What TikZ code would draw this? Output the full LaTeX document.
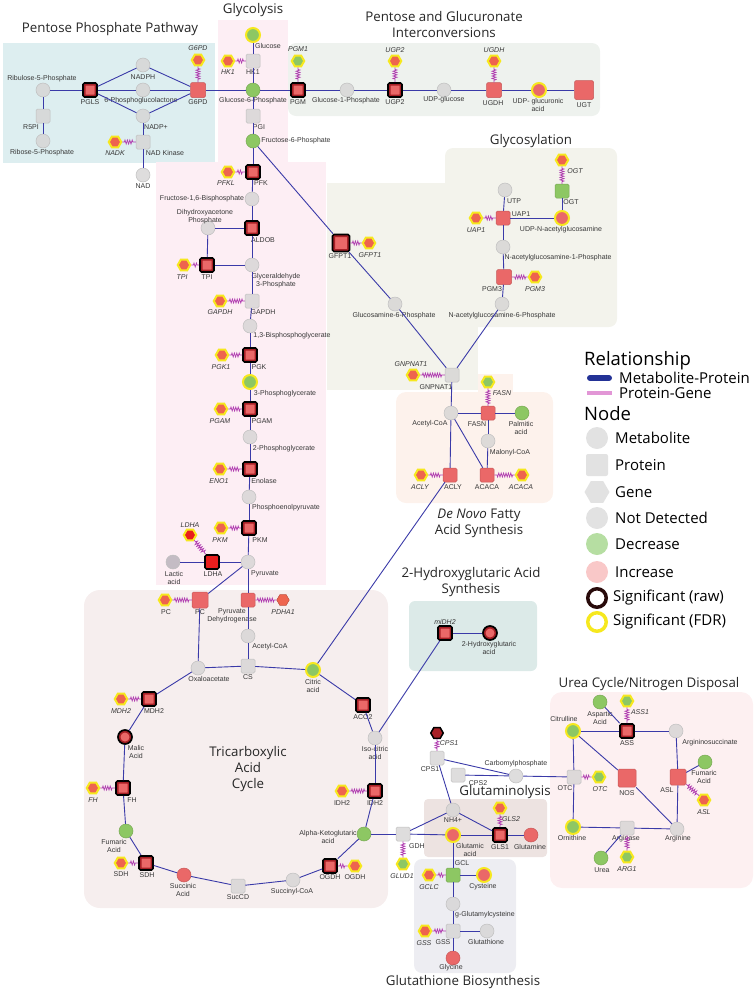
\documentclass[tikz,border=0pt]{standalone}
\usepackage{fontspec}
\setmainfont{Liberation Sans}
\newfontfamily\titlefont{Open Sans}
\usetikzlibrary{shapes.geometric,decorations.pathmorphing}
\definecolor{mpblue}{RGB}{58,58,168}
\definecolor{pgpurple}{RGB}{176,60,176}
\definecolor{incr}{RGB}{234,104,104}
\definecolor{genered}{RGB}{238,100,78}
\definecolor{decr}{RGB}{141,199,99}
\definecolor{ndgrey}{RGB}{214,212,212}
\definecolor{rawred}{RGB}{168,32,38}
\definecolor{brightred}{RGB}{232,30,30}
\definecolor{fdryellow}{RGB}{246,232,30}
\definecolor{lacgrey}{RGB}{196,188,196}
\definecolor{lbltext}{RGB}{55,55,55}
\definecolor{pppbg}{RGB}{221,238,240}
\definecolor{glybg}{RGB}{253,238,244}
\definecolor{pgibg}{RGB}{238,242,238}
\definecolor{glcbg}{RGB}{243,243,236}
\definecolor{fabg}{RGB}{253,242,236}
\definecolor{tcabg}{RGB}{246,238,238}
\definecolor{hgbg}{RGB}{220,234,232}
\definecolor{ureabg}{RGB}{253,240,241}
\definecolor{glnbg}{RGB}{237,227,225}
\definecolor{gshbg}{RGB}{237,237,242}
\definecolor{mpbold}{RGB}{35,50,150}
\definecolor{pgpink}{RGB}{226,150,214}
\definecolor{lggrey}{RGB}{226,226,226}
\definecolor{decrlight}{RGB}{182,222,162}
\definecolor{incrlight}{RGB}{249,200,200}
\definecolor{rawdark}{RGB}{40,10,10}
\newcommand\lblfont{\fontsize{7}{7.8}\selectfont}
\newcommand\ttlfont{\titlefont\fontsize{13.3}{16}\selectfont}
\tikzset{
  met/.style={circle, minimum size=14pt, inner sep=0pt, fill=ndgrey, fill opacity=0.8, draw=black!25, line width=0.5pt},
  prot/.style={rectangle, rounded corners=1.5pt, minimum size=14pt, inner sep=0pt, fill=ndgrey, fill opacity=0.8, draw=black!25, line width=0.5pt},
  gene/.style={regular polygon, regular polygon sides=6, minimum size=12.5pt, inner sep=0pt, fill=genered, draw=genered!80!black, line width=0.5pt},
  incr/.style={fill=incr, fill opacity=1, draw=incr!85!black},
  decr/.style={fill=decr, fill opacity=1, draw=decr!85!black},
  fdr/.style={draw=fdryellow, line width=2pt},
  rawsq/.style={fill=incr, fill opacity=1, draw=black, line width=1.7pt,
    path picture={\draw[rawred, line width=5pt] (path picture bounding box.south west) rectangle (path picture bounding box.north east);}},
  rawci/.style={fill=incr, fill opacity=1, draw=black, line width=1.7pt,
    path picture={\draw[rawred, line width=5pt] (path picture bounding box.center) circle[radius=7pt];}},
  rawbright/.style={fill=brightred, fill opacity=1, draw=black, line width=1.7pt},
  rawgene/.style={fill=rawred, draw=black, line width=1.5pt},
  lbl/.style={font=\lblfont, text=lbltext, inner sep=0pt, align=center},
  ttl/.style={font=\ttlfont, text=black!85, align=center, inner sep=0pt},
  mp/.style={draw=mpblue, line width=0.9pt},
  pg/.style={draw=pgpurple, line width=0.7pt, decorate,
    decoration={zigzag, segment length=2.4pt, amplitude=2pt, pre length=2pt, post length=2pt}},
  lgsym/.style={minimum size=22pt, inner sep=0pt, fill=lggrey},
  lgtxt/.style={anchor=west, font=\titlefont\fontsize{15}{18}\selectfont, inner sep=0pt},
  lghead/.style={anchor=west, font=\titlefont\fontsize{18.5}{22}\selectfont, inner sep=0pt}
}
\def\metnode(#1,#2,#3,#4,#5,#6,#7){
  \node[met, #4] (#1) at (#2,#3) {};
  \node[lbl] (#1-l) at (#5,#6) {#7};
}
\def\protnode(#1,#2,#3,#4,#5,#6,#7){
  \node[prot, #4] (#1) at (#2,#3) {};
  \node[lbl] (#1-l) at (#5,#6) {#7};
}
\def\genenode(#1,#2,#3,#4,#5,#6,#7){
  \node[gene, #4] (#1) at (#2,#3) {};
  \node[lbl, font=\lblfont\itshape] (#1-l) at (#5,#6) {#7};
}

\begin{document}
\begin{tikzpicture}[x=1pt, y=-1pt]
\useasboundingbox (0,0) rectangle (755,991);
\fill[pppbg] (3,43) rectangle (215,163);
\fill[glybg] (218,20) rectangle (288,165);
\fill[glybg] (156,162) rectangle (326,585);
\fill[pgibg, rounded corners=8pt] (288,43) rectangle (600,116);
\fill[glcbg, rounded corners=8pt] (445,148) rectangle (617,327);
\fill[glcbg] (327,183) rectangle (478,390);
\fill[fabg, rounded corners=10pt] (396,392) rectangle (553,503);
\fill[fabg] (478,374) rectangle (513,393);
\fill[tcabg, rounded corners=16pt] (84,590) rectangle (388,908);
\fill[hgbg, rounded corners=6pt] (409,601) rectangle (537,671);
\fill[ureabg, rounded corners=12pt] (550,692) rectangle (753,888);
\fill[glnbg, rounded corners=4pt] (424,799) rectangle (547,857);
\fill[gshbg, rounded corners=8pt] (414,859) rectangle (516,973);

\node[ttl] (ttl-ppp) at (110,29) {Pentose Phosphate Pathway};
\node[ttl] (ttl-gly) at (253,10) {Glycolysis};
\node[ttl] (ttl-pgi) at (444,25) {Pentose and Glucuronate\\Interconversions};
\node[ttl] (ttl-glc) at (531,141) {Glycosylation};
\node[ttl] (ttl-fa) at (479,523) {\textit{De Novo} Fatty\\Acid Synthesis};
\node[ttl] (ttl-hg) at (471,582) {2-Hydroxyglutaric Acid\\Synthesis};
\node[ttl] (ttl-tca) at (248,769) {Tricarboxylic\\Acid\\Cycle};
\node[ttl] (ttl-urea) at (649,684) {Urea Cycle/Nitrogen Disposal};
\node[ttl] (ttl-gln) at (505,792) {Glutaminolysis};
\node[ttl] (ttl-gsh) at (463,982) {Glutathione Biosynthesis};

\metnode(ru5p,43,90,,42,79,Ribulose-5-Phosphate)
\protnode(r5pi,43,116,,31,127,R5PI)
\metnode(r5p,43,141,,42,153,Ribose-5-Phosphate)
\protnode(pgls,90,90,rawsq,90,102,PGLS)
\metnode(nadph,143,65,,143,77,NADPH)
\metnode(pgl,143,90,,141,101,6-Phosphoglucolactone)
\metnode(nadp,143,116,,156,127,NADP+)
\protnode(nadk,143,142,,165,153,NAD Kinase)
\genenode(nadkg,115,142,fdr,115,153,NADK)
\metnode(nad,143,175,,143,186,NAD)
\protnode(g6pd,198,90,{incr,minimum size=15pt},198,102,G6PD)
\genenode(g6pdg,198,60,fdr,198,48,G6PD)

\metnode(glc,253,35,{decr,fdr},268,46,Glucose)
\protnode(hk1,253,61,,253,72,HK1)
\genenode(hk1g,228,61,fdr,228,72,HK1)
\metnode(g6p,253,90,decr,253,101,Glucose-6-Phosphate)
\protnode(pgi,253,116,,259,127,PGI)
\metnode(f6p,253,141,decr,296,141,Fructose-6-Phosphate)
\protnode(pfk,253,172,rawsq,261,183,PFK)
\genenode(pfklg,228,172,fdr,226,183,PFKL)
\metnode(f16bp,252,199,,202,199,Fructose-1,6-Bisphosphate)
\metnode(dhap,208,228,,205,217,Dihydroxyacetone\\Phosphate)
\protnode(aldob,252,228,rawsq,263,240,ALDOB)
\protnode(tpi,207,265,rawsq,207,277,TPI)
\genenode(tpig,184,265,fdr,182,277,TPI)
\metnode(g3p,252,265,,276,281,Glyceraldehyde\\3-Phosphate)
\protnode(gapdh,252,301,,263,312,GAPDH)
\genenode(gapdhg,220,301,fdr,220,312,GAPDH)
\metnode(bpg,250,326,,292,336,1,3-Bisphosphoglycerate)
\protnode(pgk,250,355,rawsq,259,367,PGK)
\genenode(pgk1g,222,355,fdr,221,367,PGK1)
\metnode(pg3,250,382,{decr,fdr},285,394,3-Phosphoglycerate)
\protnode(pgam,250,409,rawsq,262,421,PGAM)
\genenode(pgamg,221,409,fdr,220,421,PGAM)
\metnode(pg2,250,437,,284,449,2-Phosphoglycerate)
\protnode(eno,250,469,rawsq,264,481,Enolase)
\genenode(eno1g,220,469,fdr,219,481,ENO1)
\metnode(pep,249,497,,286,508,Phosphoenolpyruvate)
\protnode(pkm,249,528,rawsq,260,540,PKM)
\genenode(pkmg,221,528,fdr,220,540,PKM)
\metnode(pyr,248,562,,265,574,Pyruvate)
\protnode(ldha,212,562,rawbright,213,574,LDHA)
\genenode(ldhag,190,535,{fdr,fill=brightred},190,525,LDHA)
\metnode(lac,173,562,{fill=lacgrey,fill opacity=1},174,578,Lactic\\acid)

\protnode(pgm,298,90,rawsq,298,102,PGM)
\genenode(pgm1g,298,61,{decr,fdr},298,49,PGM1)
\metnode(g1p,347,90,,346,101,Glucose-1-Phosphate)
\protnode(ugp2,395,90,rawsq,395,102,UGP2)
\genenode(ugp2g,395,61,fdr,395,50,UGP2)
\metnode(udpg,444,90,,444,100,UDP-glucose)
\protnode(ugdh,494,90,{incr,minimum size=15pt},493,103,UGDH)
\genenode(ugdhg,494,61,fdr,494,50,UGDH)
\metnode(udpga,539,90,{incr,fdr},538,105,UDP- glucuronic\\acid)
\protnode(ugt,584,90,{incr,minimum size=19pt},584,105,UGT)

\protnode(gfpt1,341,243,{rawsq,minimum size=17pt},340,256,GFPT1)
\genenode(gfpt1g,369,243,fdr,370,255,GFPT1)
\metnode(gln6p,395,304,,394,316,Glucosamine-6-Phosphate)
\protnode(gnpnat1,452,375,,436,387,GNPNAT1)
\genenode(gnpnat1g,413,375,fdr,411,364,GNPNAT1)
\metnode(glcnac6p,502,304,,502,316,N-acetylglucosamine-6-Phosphate)
\protnode(pgm3,504,277,{incr,minimum size=15pt},492,289,PGM3)
\genenode(pgm3g,535,277,fdr,535,289,PGM3)
\metnode(glcnac1p,503,247,,558,258,N-acetylglucosamine-1-Phosphate)
\protnode(uap1,503,218,incr,521,214,UAP1)
\genenode(uap1g,476,218,fdr,476,230,UAP1)
\metnode(utp,505,190,,514,201,UTP)
\metnode(udpnag,562,218,{incr,fdr},561,230,UDP-N-acetylglucosamine)
\protnode(ogt,562,191,decr,571,202,OGT)
\genenode(ogtg,562,160,fdr,575,171,OGT)

\metnode(accoa,451,413,,430,424,Acetyl-CoA)
\protnode(fasn,488,413,incr,477,424,FASN)
\genenode(fasng,488,382,{decr,fdr},502,393,FASN)
\metnode(palm,522,413,decr,521,428,Palmitic\\acid)
\metnode(malcoa,488,441,,510,453,Malonyl-CoA)
\protnode(acly,450,475,incr,453,487,ACLY)
\genenode(aclyg,421,475,fdr,420,487,ACLY)
\protnode(acaca,487,475,incr,487,487,ACACA)
\genenode(acacag,522,475,fdr,521,487,ACACA)

\genenode(pcg,165,600,fdr,166,612,{\upshape PC})
\protnode(pc,200,600,{incr,minimum size=16pt},200,612,PC)
\protnode(pdh,248,600,incr,232,616,Pyruvate\\Dehydrogenase)
\genenode(pdha1g,283,600,,283,612,PDHA1)
\metnode(accoat,248,636,,270,647,Acetyl-CoA)
\protnode(cs,248,666,,248,677,CS)
\metnode(oaa,198,668,,209,679,Oxaloacetate)
\metnode(cit,313,670,{decr,fdr},313,686,Citric\\acid)
\protnode(aco2,363,705,rawsq,363,717,ACO2)
\metnode(icit,375,738,,375,753,Iso-citric\\acid)
\protnode(idh2,375,791,rawsq,375,803,IDH2)
\genenode(idh2g,342,791,fdr,342,803,{\upshape IDH2})
\metnode(akg,364,834,decr,328,837,Alpha-Ketoglutaric\\acid)
\protnode(ogdh,330,866,rawsq,330,877,OGDH)
\genenode(ogdhg,355,866,fdr,355,877,{\upshape OGDH})
\metnode(succoa,293,880,,292,892,Succinyl-CoA)
\protnode(sucd,238,886,,238,897,SucCD)
\metnode(succ,184,875,incr,183,890,Succinic\\Acid)
\protnode(sdh,146,863,rawsq,147,875,SDH)
\genenode(sdhg,121,863,fdr,121,874,{\upshape SDH})
\metnode(fum,126,831,decr,114,846,Fumaric\\Acid)
\protnode(fh,123,788,rawsq,132,800,FH)
\genenode(fhg,93,788,fdr,93,800,FH)
\metnode(mal,125,737,rawci,136,752,Malic\\Acid)
\protnode(mdh2,149,699,rawsq,154,711,MDH2)
\genenode(mdh2g,121,699,fdr,121,711,MDH2)

\protnode(midh2,445,633,rawsq,445,622,{\itshape miDH2})
\metnode(hg2,490,633,rawci,489,648,2-Hydroxyglutaric\\acid)

\metnode(asp,600,702,decr,600,718,Aspartic\\Acid)
\genenode(ass1g,627,701,{decr,fdr},640,712,ASS1)
\protnode(ass,627,731,rawsq,627,743,ASS)
\metnode(citr,573,731,{decr,fdr},564,719,Citrulline)
\metnode(asuc,676,731,,710,743,Argininosuccinate)
\protnode(otc,574,777,,565,788,OTC)
\genenode(otcg,599,777,{decr,fdr},600,789,OTC)
\protnode(nos,627,778,{incr,minimum size=18pt},627,793,NOS)
\protnode(asl,678,777,{incr,minimum size=16pt},667,790,ASL)
\metnode(fumu,705,762,decr,704,777,Fumaric\\Acid)
\genenode(aslg,704,800,fdr,704,812,ASL)
\metnode(arg,677,829,,678,839,Arginine)
\protnode(argase,627,828,,626,839,Arginase)
\genenode(arg1g,627,857,{decr,fdr},627,869,ARG1)
\metnode(urea,601,858,decr,602,870,Urea)
\metnode(orn,573,827,{decr,fdr},572,838,Ornithine)

\genenode(cps1g,437,733,rawgene,449,743,CPS1)
\protnode(cps1,437,758,,430,769,CPS1)
\protnode(cps2,458,775,,478,783,CPS2)
\metnode(cbp,516,776,,516,764,Carbomylphosphate)
\metnode(nh4,453,810,,453,820,NH4+)
\protnode(gdh,403,834,,417,846,GDH)
\genenode(glud1g,403,864,{decr,fdr},402,876,GLUD1)
\metnode(glu,453,835,{incr,fdr},470,850,Glutamic\\acid)
\protnode(gls1,500,835,rawsq,500,847,GLS1)
\genenode(gls2g,500,808,fdr,511,819,GLS2)
\metnode(gln,531,835,incr,530,847,Glutamine)

\protnode(gcl,453,875,decr,462,863,GCL)
\genenode(gclcg,429,875,fdr,429,887,GCLC)
\metnode(cys,484,875,{incr,fdr},483,887,Cysteine)
\metnode(ggc,453,904,,485,915,g-Glutamylcysteine)
\protnode(gss,453,931,,443,942,GSS)
\genenode(gssg,425,931,fdr,424,943,GSS)
\metnode(gsh,487,931,,486,942,Glutathione)
\metnode(gly,453,958,incr,451,968,Glycine)

\foreach \a/\b in {ru5p/pgls, ru5p/r5pi, r5pi/r5p, pgls/nadph, pgls/pgl, pgls/nadp,
  nadph/g6pd, pgl/g6pd, nadp/g6pd, nadp/nadk, nadk/nad, g6pd/g6p,
  glc/hk1, hk1/g6p, g6p/pgi, pgi/f6p, f6p/pfk, pfk/f16bp, f16bp/aldob, aldob/g3p,
  aldob/dhap, dhap/tpi, tpi/g3p, g3p/gapdh, gapdh/bpg, bpg/pgk, pgk/pg3, pg3/pgam,
  pgam/pg2, pg2/eno, eno/pep, pep/pkm, pkm/pyr, pyr/ldha, ldha/lac, pyr/pc, pyr/pdh,
  g6p/pgm, pgm/g1p, g1p/ugp2, ugp2/udpg, udpg/ugdh, ugdh/udpga, udpga/ugt,
  f6p/gfpt1, gfpt1/gln6p, gln6p/gnpnat1, glcnac6p/gnpnat1, glcnac6p/pgm3,
  pgm3/glcnac1p, glcnac1p/uap1, uap1/utp, uap1/udpnag, udpnag/ogt,
  gnpnat1/accoa, accoa/fasn, fasn/palm, fasn/malcoa, malcoa/acaca, accoa/acaca,
  accoa/acly, acly/cit,
  pc/oaa, pdh/accoat, accoat/cs, oaa/cs, cs/cit, cit/aco2, aco2/icit, icit/idh2,
  idh2/akg, akg/ogdh, ogdh/succoa, succoa/sucd, sucd/succ, succ/sdh, sdh/fum,
  fum/fh, fh/mal, mal/mdh2, mdh2/oaa, icit/midh2, midh2/hg2, akg/gdh,
  cps1/nh4, cps1/cbp, cps2/cbp, cbp/otc, nh4/gdh, nh4/gls1, gdh/glu, glu/gls1,
  gls1/gln, glu/gcl, gcl/cys, gcl/ggc, ggc/gss, gss/gsh, gss/gly,
  citr/ass, asp/ass, ass/asuc, asuc/asl, asl/fumu, asl/arg, citr/nos, nos/arg,
  arg/argase, argase/orn, argase/urea, orn/otc, otc/citr}
  \draw[mp] (\a) -- (\b);
\foreach \a/\b in {g6pdg/g6pd, nadkg/nadk, hk1g/hk1, pfklg/pfk, tpig/tpi, gapdhg/gapdh,
  pgk1g/pgk, pgamg/pgam, eno1g/eno, pkmg/pkm, ldhag/ldha, pgm1g/pgm, ugp2g/ugp2,
  ugdhg/ugdh, gfpt1g/gfpt1, gnpnat1g/gnpnat1, pgm3g/pgm3, uap1g/uap1, ogtg/ogt,
  fasng/fasn, aclyg/acly, acacag/acaca, pcg/pc, pdh/pdha1g, idh2g/idh2, ogdh/ogdhg,
  sdhg/sdh, fhg/fh, mdh2g/mdh2, ass1g/ass, otc/otcg, asl/aslg, argase/arg1g,
  cps1g/cps1, gls2g/gls1, gdh/glud1g, gclcg/gcl, gssg/gss}
  \draw[pg] (\a) -- (\b);

\node[lghead] (lg-rel) at (584,361) {Relationship};
\coordinate (lg-mp-a) at (590,378);
\coordinate (lg-mp-b) at (609,378);
\draw[draw=mpbold, line width=6pt, line cap=round] (lg-mp-a) -- (lg-mp-b);
\node[lgtxt] (lg-mp) at (619,378) {Metabolite-Protein};
\coordinate (lg-pg-a) at (587,393);
\coordinate (lg-pg-b) at (612,393);
\draw[draw=pgpink, line width=4.5pt] (lg-pg-a) -- (lg-pg-b);
\node[lgtxt] (lg-pg) at (619,393) {Protein-Gene};
\node[lghead] (lg-node) at (584,414) {Node};
\node[lgsym, circle] (lg-met) at (597,438) {};
\node[lgtxt] (lg-met-t) at (615,438) {Metabolite};
\node[lgsym, rectangle, rounded corners=2pt] (lg-prot) at (597,465) {};
\node[lgtxt] (lg-prot-t) at (615,465) {Protein};
\node[lgsym, regular polygon, regular polygon sides=6, minimum size=25pt] (lg-gene) at (597,492) {};
\node[lgtxt] (lg-gene-t) at (615,492) {Gene};
\node[lgsym, circle] (lg-nd) at (597,518) {};
\node[lgtxt] (lg-nd-t) at (615,518) {Not Detected};
\node[lgsym, circle, fill=decrlight] (lg-dec) at (597,544) {};
\node[lgtxt] (lg-dec-t) at (615,544) {Decrease};
\node[lgsym, circle, fill=incrlight] (lg-inc) at (597,572) {};
\node[lgtxt] (lg-inc-t) at (615,572) {Increase};
\node[lgsym, circle, minimum size=18.5pt, fill=white, draw=rawdark, line width=3.5pt] (lg-raw) at (597,598) {};
\node[lgtxt] (lg-raw-t) at (613,598) {Significant (raw)};
\node[lgsym, circle, minimum size=18.5pt, fill=white, draw=fdryellow, line width=3.5pt] (lg-fdr) at (597,622) {};
\node[lgtxt] (lg-fdr-t) at (613,622) {Significant (FDR)};
\end{tikzpicture}
\end{document}
